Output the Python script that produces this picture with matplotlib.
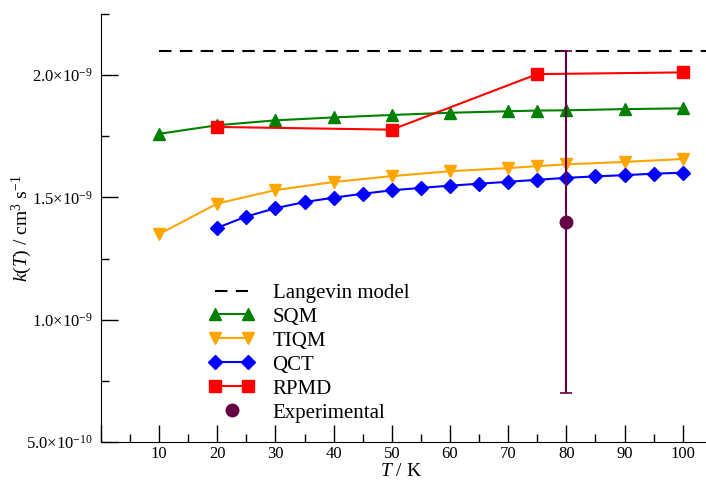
import matplotlib
matplotlib.use("Agg")
import matplotlib.pyplot as plt
from matplotlib.ticker import MultipleLocator, FuncFormatter
from matplotlib.lines import Line2D
from matplotlib.legend_handler import HandlerLine2D

plt.rcParams['font.family'] = ['Liberation Serif', 'DejaVu Serif']
plt.rcParams['mathtext.fontset'] = 'custom'
plt.rcParams['mathtext.rm'] = 'Liberation Serif'
plt.rcParams['mathtext.it'] = 'Liberation Serif:italic'

# data (k in units of 1e-9 cm^3 s^-1)
langevin_T = [10, 104]
langevin_k = [2.10, 2.10]

sqm_T = [10, 20, 30, 40, 50, 60, 70, 75, 80, 90, 100]
sqm_k = [1.760, 1.795, 1.815, 1.827, 1.837, 1.846, 1.852, 1.855, 1.856, 1.861, 1.864]

tiqm_T = [10, 20, 30, 40, 50, 60, 70, 75, 80, 90, 100]
tiqm_k = [1.350, 1.475, 1.530, 1.563, 1.587, 1.607, 1.620, 1.628, 1.635, 1.645, 1.657]

qct_T = [20, 25, 30, 35, 40, 45, 50, 55, 60, 65, 70, 75, 80, 85, 90, 95, 100]
qct_k = [1.376, 1.422, 1.456, 1.481, 1.499, 1.515, 1.529, 1.539, 1.548, 1.556,
         1.564, 1.572, 1.580, 1.586, 1.591, 1.597, 1.601]

rpmd_T = [20, 50, 75, 100]
rpmd_k = [1.788, 1.777, 2.004, 2.011]

exp_T = [80]
exp_k = [1.40]
exp_err = [0.70]

exp_color = '#660044'

fig = plt.figure(figsize=(7.06, 4.8), dpi=100)
ax = fig.add_axes([0.143, 0.079, 0.857, 0.892])

ax.plot(langevin_T, langevin_k, color='black', lw=1.5, dashes=(6, 4), label='Langevin model')
ax.plot(sqm_T, sqm_k, color='#008000', lw=1.5, marker='^', ms=9, label='SQM')
ax.plot(tiqm_T, tiqm_k, color='#FFA500', lw=1.5, marker='v', ms=9, label='TIQM')
ax.plot(qct_T, qct_k, color='#0000FF', lw=1.5, marker='D', ms=7, label='QCT')
ax.plot(rpmd_T, rpmd_k, color='#FF0000', lw=1.5, marker='s', ms=8, label='RPMD')
ax.errorbar(exp_T, exp_k, yerr=exp_err, fmt='o', color=exp_color, ms=9,
            elinewidth=1.5, capsize=4, capthick=1.2)

ax.set_xlim(0, 104)
ax.set_ylim(0.5, 2.25)

ax.xaxis.set_major_locator(MultipleLocator(10))
ax.xaxis.set_minor_locator(MultipleLocator(5))
ax.yaxis.set_major_locator(MultipleLocator(0.5))
ax.yaxis.set_minor_locator(MultipleLocator(0.25))
ax.xaxis.set_major_formatter(FuncFormatter(lambda v, p: '' if v == 0 else '%d' % v))

def ylab(v, p):
    if v < 0.9:
        return r'5.0$\times$10$^{-10}$'
    return r'%.1f$\times$10$^{-9}$' % v

ax.yaxis.set_major_formatter(FuncFormatter(ylab))
ax.tick_params(which='both', direction='in', labelsize=12, width=1)
ax.tick_params(which='major', length=12)
ax.tick_params(which='minor', length=6)
ax.tick_params(axis='x', which='major', pad=2.5)
ax.tick_params(axis='y', which='major', pad=6)

ax.spines['top'].set_visible(False)
ax.spines['right'].set_visible(False)

ax.set_xlabel(r'$T$ / K', fontsize=14)
ax.xaxis.set_label_coords(0.496, -0.049)
ax.set_ylabel(r'$k(T)$ / cm$^{3}$ s$^{-1}$', fontsize=14)
ax.yaxis.set_label_coords(-0.11, 0.5)

handles, labels = ax.get_legend_handles_labels()
exp_handle = Line2D([], [], ls='none', marker='o', ms=9, color=exp_color)
handles.append(exp_handle)
labels.append('Experimental')
ax.legend(handles, labels, loc='upper left', bbox_to_anchor=(0.178, 0.371), frameon=False,
          fontsize=15, numpoints=2, handlelength=2.2, labelspacing=0.21, handletextpad=0.87,
          borderpad=0, borderaxespad=0,
          handler_map={exp_handle: HandlerLine2D(numpoints=1)})

fig.savefig('out.png', dpi=100)
